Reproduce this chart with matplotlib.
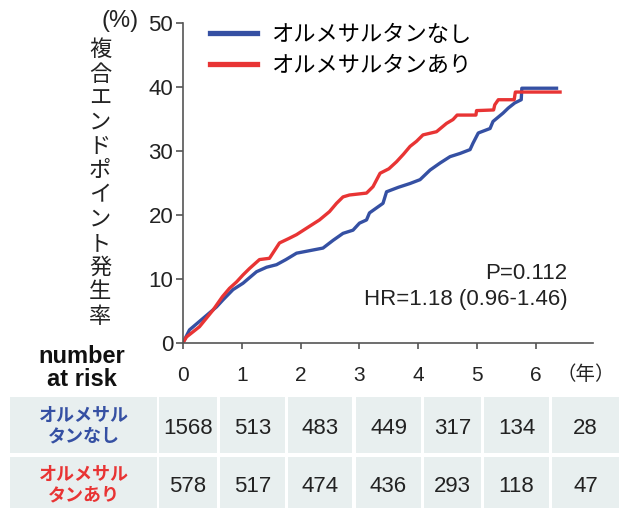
import matplotlib
matplotlib.use('Agg')
import matplotlib.pyplot as plt
from matplotlib.lines import Line2D
from matplotlib.patches import Rectangle

plt.rcParams['font.family'] = ['Liberation Sans', 'Noto Sans CJK JP', 'DejaVu Sans']

# Kaplan-Meier curves (years, cumulative %)
t_without = [0.0, 0.11, 0.34, 0.57, 0.68, 0.85, 1.02, 1.25, 1.42, 1.59, 1.75, 1.93, 2.38,
             2.55, 2.72, 2.89, 3.00, 3.12, 3.17, 3.40, 3.46, 3.66, 3.86, 4.03, 4.20, 4.37,
             4.54, 4.71, 4.88, 4.93, 5.02, 5.22, 5.27, 5.44, 5.53, 5.64, 5.75, 5.76, 6.35]
y_without = [0.0, 2.0, 3.8, 5.6, 6.7, 8.3, 9.3, 11.1, 11.8, 12.2, 13.0, 14.0, 14.8,
             16.0, 17.1, 17.6, 18.7, 19.2, 20.3, 21.8, 23.6, 24.3, 24.9, 25.5, 27.0, 28.1,
             29.1, 29.6, 30.2, 31.2, 32.8, 33.5, 34.6, 35.9, 36.7, 37.5, 38.0, 39.8, 39.8]

t_with = [0.0, 0.06, 0.28, 0.51, 0.67, 0.79, 0.91, 1.02, 1.13, 1.30, 1.47, 1.64, 1.80,
          1.93, 2.15, 2.32, 2.49, 2.61, 2.72, 2.83, 3.12, 3.23, 3.35, 3.50, 3.63, 3.75,
          3.86, 3.97, 4.08, 4.31, 4.48, 4.59, 4.66, 4.98, 4.99, 5.28, 5.30, 5.36, 5.63,
          5.65, 6.41]
y_with = [0.0, 0.9, 2.5, 5.1, 7.2, 8.5, 9.5, 10.6, 11.6, 13.0, 13.2, 15.6, 16.3,
          16.9, 18.2, 19.2, 20.5, 21.8, 22.8, 23.1, 23.4, 24.4, 26.5, 27.2, 28.3, 29.5,
          30.7, 31.5, 32.5, 33.0, 34.3, 34.9, 35.6, 35.6, 36.3, 36.4, 37.2, 38.0, 38.0,
          39.2, 39.2]

labels = ['オルメサルタンなし', 'オルメサルタンあり']
table_labels = ['オルメサル\nタンなし', 'オルメサル\nタンあり']
risk_without = [1568, 513, 483, 449, 317, 134, 28]
risk_with = [578, 517, 474, 436, 293, 118, 47]
x_ticks = [0, 1, 2, 3, 4, 5, 6]
y_ticks = [0, 10, 20, 30, 40, 50]

blue = '#3550a3'
red = '#e83434'
W, H = 619, 508

fig = plt.figure(figsize=(W / 100, H / 100), dpi=100)
ax = fig.add_axes([183 / W, 1 - 342.7 / H, 410 / W, 319.7 / H])

ax.plot(t_without, y_without, color=blue, lw=2.4)
ax.plot(t_with, y_with, color=red, lw=2.4)

ax.set_xlim(0, 6.97)
ax.set_ylim(0, 50)
ax.set_xticks(x_ticks)
ax.set_yticks(y_ticks)
for s in ['top', 'right']:
    ax.spines[s].set_visible(False)
for s in ['left', 'bottom']:
    ax.spines[s].set_color('#555555')
    ax.spines[s].set_linewidth(1.2)
ax.tick_params(axis='y', length=5, width=1.2, color='#555555', labelsize=16, pad=2, labelcolor='#222222')
ax.tick_params(axis='x', length=4, width=1.2, color='#555555', labelsize=15, pad=13, labelcolor='#222222')

# legend
handles = [Line2D([], [], color=blue, lw=3.8), Line2D([], [], color=red, lw=3.8)]
ax.legend(handles, labels, loc='upper left', bbox_to_anchor=(199 / W, 1 - 14 / H),
          bbox_transform=fig.transFigure, frameon=False, fontsize=16,
          handlelength=2.1, handletextpad=0.65, labelspacing=0.45, borderpad=0)

ax.text(0.937, 0.218, 'P=0.112', transform=ax.transAxes, ha='right', va='center', fontsize=16, color='#222222')
ax.text(0.937, 0.134, 'HR=1.18 (0.96-1.46)', transform=ax.transAxes, ha='right', va='center', fontsize=16, color='#222222')

# y label
fig.text(100 / W, 1 - 184 / H, '\n'.join('複合エンドポイント発生率'), ha='center', va='center',
         fontsize=16, linespacing=1.2, color='#222222')
fig.text(120 / W, 1 - 21 / H, '(%)', ha='center', va='center', fontsize=17, color='#222222')
fig.text(586 / W, 1 - 375 / H, '（年）', ha='center', va='center', fontsize=14, color='#222222')

# number at risk
fig.text(82 / W, 1 - 368 / H, 'number\nat risk', ha='center', va='center', fontsize=17,
         fontweight='bold', linespacing=1.05, color='#111111')

col_edges = [(10, 157), (159, 217), (220, 285), (288, 352), (356, 421), (424, 481), (484, 549), (552, 625)]
row_edges = [(397, 453), (457, 520)]
text_y = [428, 487]
bg = '#e8efef'
for r, (vals, lab, c) in enumerate([(risk_without, table_labels[0], blue), (risk_with, table_labels[1], red)]):
    y0, y1 = row_edges[r]
    for x0, x1 in col_edges:
        fig.add_artist(Rectangle((x0 / W, 1 - y1 / H), (x1 - x0) / W, (y1 - y0) / H,
                                 transform=fig.transFigure, facecolor=bg, edgecolor='none'))
    lx = (col_edges[0][0] + col_edges[0][1]) / 2
    fig.text(lx / W, 1 - (text_y[r] - 1) / H, lab, ha='center', va='center', fontsize=13,
             fontweight='bold', color=c, linespacing=1.25)
    for (x0, x1), v in zip(col_edges[1:], vals):
        cx = (x0 + min(x1, 619)) / 2
        fig.text(cx / W, 1 - text_y[r] / H, str(v), ha='center', va='center', fontsize=16, color='#222222')

fig.savefig('out.png', dpi=100)
